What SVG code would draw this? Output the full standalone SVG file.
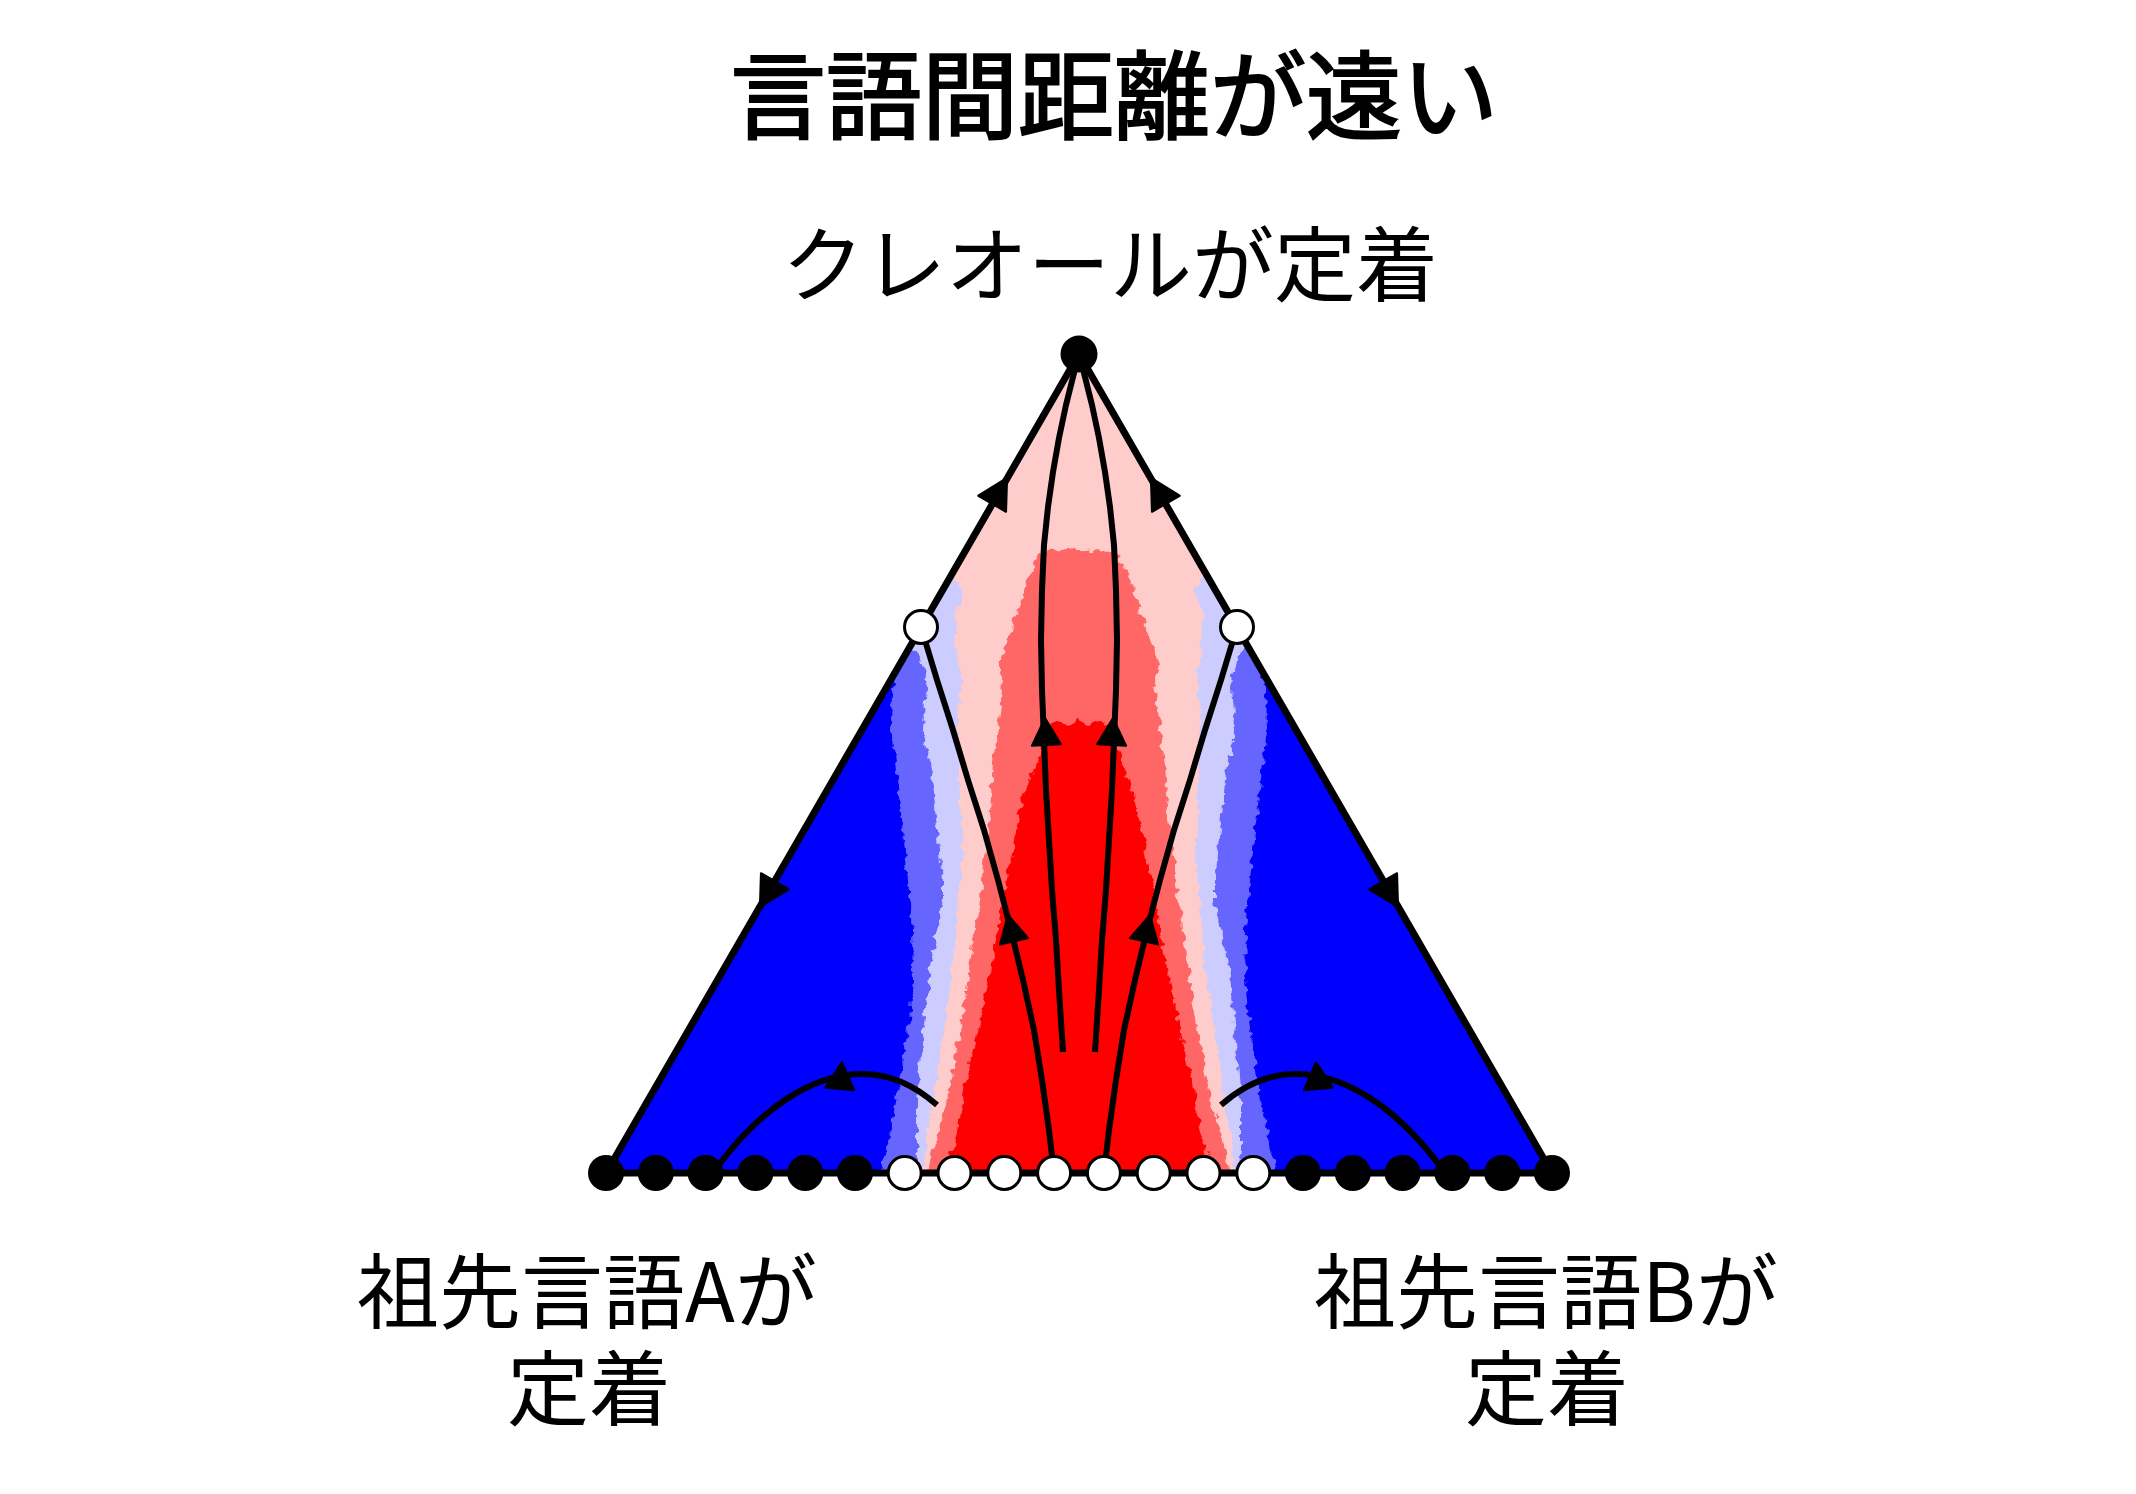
<svg xmlns="http://www.w3.org/2000/svg" xmlns:xlink="http://www.w3.org/1999/xlink" width="2136" height="1494" viewBox="0 0 2136 1494">
<style>
.t{font-family:"Noto Sans CJK JP","Noto Sans",sans-serif;fill:#000;text-anchor:middle}
.title{font-size:96px;font-weight:400;stroke:#000;stroke-width:2.2px}
.lab{font-size:82px;font-weight:400}
.edge{fill:none;stroke:#000;stroke-width:7;stroke-linejoin:round}
.flow{fill:none;stroke:#000;stroke-width:6;stroke-linecap:butt;stroke-linejoin:round}
.ah{fill:#000;stroke:#000;stroke-width:2;stroke-linejoin:round}
.fb{fill:#000}
.fw{fill:#fff;stroke:#000;stroke-width:3}
</style>
<defs>
<clipPath id="tri"><polygon points="1079,354 606,1173 1552,1173"/></clipPath>
<filter id="jag" x="-5%" y="-5%" width="110%" height="110%" color-interpolation-filters="sRGB">
<feTurbulence type="fractalNoise" baseFrequency="0.12" numOctaves="2" seed="3" result="n"/>
<feDisplacementMap in="SourceGraphic" in2="n" scale="10" xChannelSelector="R" yChannelSelector="G"/>
</filter>
<path id="ah" d="M0,0 L14.5,27 L-14.5,27 Z"/>
</defs>
<rect width="2136" height="1494" fill="#fff"/>

<g id="field" clip-path="url(#tri)">
<g filter="url(#jag)">
<rect x="560" y="300" width="1040" height="920" fill="#0000ff"/>
<polygon fill="#6666ff" points="860,600 900,650 892,690 891,730 897,780 903,830 908,880 912,930 913,980 909,1020 905,1050 897,1100 887,1150 880,1173 878,1200 1280,1200 1278,1173 1271,1150 1261,1100 1253,1050 1249,1020 1245,980 1246,930 1250,880 1255,830 1261,780 1267,730 1266,690 1258,650 1298,600 1079,300"/>
<polygon fill="#ccccff" points="860,600 905,640 921,660 927,675 925,700 923,730 933,780 937,830 943,880 943,900 937,930 930,967 923,1033 917,1100 917,1150 920,1173 920,1200 1238,1200 1238,1173 1241,1150 1241,1100 1235,1033 1228,967 1221,930 1215,900 1215,880 1221,830 1225,780 1235,730 1233,700 1231,675 1237,660 1253,640 1298,600 1079,300"/>
<polygon fill="#ffcccc" points="1079,300 945,565 963,590 955,613 957,633 957,660 962,680 957,713 960,763 960,813 963,863 958,900 957,913 953,967 943,1033 933,1100 925,1150 924,1173 924,1200 1234,1200 1234,1173 1233,1150 1225,1100 1215,1033 1205,967 1201,913 1200,900 1195,863 1198,813 1198,763 1201,713 1196,680 1201,660 1201,633 1203,613 1195,590 1213,565"/>
<polygon fill="#ff6666" points="1040,556 1030,573 1023,593 1017,613 1010,633 1003,653 999,667 1003,680 1000,713 993,763 990,813 983,863 981,900 977,913 970,963 960,1033 947,1100 932,1150 928,1173 928,1200 1230,1200 1230,1173 1226,1150 1211,1100 1198,1033 1188,963 1181,913 1177,900 1175,863 1168,813 1165,763 1158,713 1155,680 1159,667 1155,653 1148,633 1141,613 1135,593 1128,573 1118,556 1110,553 1100,550 1085,552 1070,547 1060,552 1048,549"/>
<polygon fill="#ff0000" points="1048,726 1037,763 1023,797 1013,847 1003,897 995,947 988,983 977,1033 965,1083 957,1133 947,1165 945,1173 945,1200 1213,1200 1213,1173 1211,1165 1201,1133 1193,1083 1181,1033 1170,983 1163,947 1155,897 1145,847 1135,797 1121,763 1110,726 1100,720 1090,724 1078,719 1068,726 1058,721"/>
</g>
</g>

<g id="connectors">
<polygon class="edge" points="1079,354 606,1173 1552,1173"/>
<path class="flow" d="M921,627 L937,680 L953,730 L968,780 L984,830 L998,880 L1011,930 L1023,980 L1034,1030 L1042,1080 L1049,1130 L1054,1173"/>
<path class="flow" d="M1237,627 L1221,680 L1205,730 L1190,780 L1174,830 L1160,880 L1147,930 L1135,980 L1124,1030 L1116,1080 L1109,1130 L1104,1173"/>
<path class="flow" d="M1079,354 L1073,377 L1066,405 L1059,438 L1053,472 L1048,507 L1044,545 L1042,590 L1041,640 L1042,690 L1044,740 L1046,790 L1049,840 L1052,890 L1056,940 L1059,990 L1063,1052"/>
<path class="flow" d="M1079,354 L1085,377 L1092,405 L1099,438 L1105,472 L1110,507 L1114,545 L1116,590 L1117,640 L1116,690 L1114,740 L1112,790 L1109,840 L1106,890 L1102,940 L1099,990 L1095,1052"/>
<path class="flow" d="M718,1166 C760,1110 810,1075 860,1074 C895,1073 920,1090 937,1105"/>
<path class="flow" d="M1440,1166 C1398,1110 1348,1075 1298,1074 C1263,1073 1238,1090 1221,1105"/>
<g id="arrowheads">
<use xlink:href="#ah" class="ah" transform="translate(1007,478) rotate(30) scale(1.1)"/>
<use xlink:href="#ah" class="ah" transform="translate(1151,478) rotate(-30) scale(1.1)"/>
<use xlink:href="#ah" class="ah" transform="translate(760,907) rotate(-150) scale(1.1)"/>
<use xlink:href="#ah" class="ah" transform="translate(1398,907) rotate(150) scale(1.1)"/>
<use xlink:href="#ah" class="ah" transform="translate(1045,718) rotate(-3)"/>
<use xlink:href="#ah" class="ah" transform="translate(1113,718) rotate(3)"/>
<use xlink:href="#ah" class="ah" transform="translate(1008,915) rotate(-13)"/>
<use xlink:href="#ah" class="ah" transform="translate(1150,915) rotate(13)"/>
<use xlink:href="#ah" class="ah" transform="translate(842,1062) rotate(5)"/>
<use xlink:href="#ah" class="ah" transform="translate(1316,1062) rotate(-5)"/>
</g>
</g>

<g id="nodes">
<g id="apex"><circle class="fb" cx="1079" cy="354" r="18.5"/></g>
<g id="side-left"><circle class="fw" cx="921" cy="627" r="16.5"/></g>
<g id="side-right"><circle class="fw" cx="1237" cy="627" r="16.5"/></g>
<g id="b0"><circle class="fb" cx="606" cy="1173" r="18"/></g>
<g id="b1"><circle class="fb" cx="655.8" cy="1173" r="18"/></g>
<g id="b2"><circle class="fb" cx="705.6" cy="1173" r="18"/></g>
<g id="b3"><circle class="fb" cx="755.4" cy="1173" r="18"/></g>
<g id="b4"><circle class="fb" cx="805.2" cy="1173" r="18"/></g>
<g id="b5"><circle class="fb" cx="855" cy="1173" r="18"/></g>
<g id="b6"><circle class="fw" cx="904.7" cy="1173" r="16.5"/></g>
<g id="b7"><circle class="fw" cx="954.5" cy="1173" r="16.5"/></g>
<g id="b8"><circle class="fw" cx="1004.3" cy="1173" r="16.5"/></g>
<g id="b9"><circle class="fw" cx="1054.1" cy="1173" r="16.5"/></g>
<g id="b10"><circle class="fw" cx="1103.9" cy="1173" r="16.5"/></g>
<g id="b11"><circle class="fw" cx="1153.7" cy="1173" r="16.5"/></g>
<g id="b12"><circle class="fw" cx="1203.5" cy="1173" r="16.5"/></g>
<g id="b13"><circle class="fw" cx="1253.3" cy="1173" r="16.5"/></g>
<g id="b14"><circle class="fb" cx="1303" cy="1173" r="18"/></g>
<g id="b15"><circle class="fb" cx="1352.8" cy="1173" r="18"/></g>
<g id="b16"><circle class="fb" cx="1402.6" cy="1173" r="18"/></g>
<g id="b17"><circle class="fb" cx="1452.4" cy="1173" r="18"/></g>
<g id="b18"><circle class="fb" cx="1502.2" cy="1173" r="18"/></g>
<g id="b19"><circle class="fb" cx="1552" cy="1173" r="18"/></g>
</g>

<g id="labels">
<text class="t title" x="1114" y="131">言語間距離が遠い</text>
<text class="t lab" x="1110" y="295">クレオールが定着</text>
<text class="t lab" x="587" y="1322">祖先言語Aが</text>
<text class="t lab" x="589" y="1419">定着</text>
<text class="t lab" x="1546" y="1322">祖先言語Bが</text>
<text class="t lab" x="1547" y="1419">定着</text>
</g>
</svg>
